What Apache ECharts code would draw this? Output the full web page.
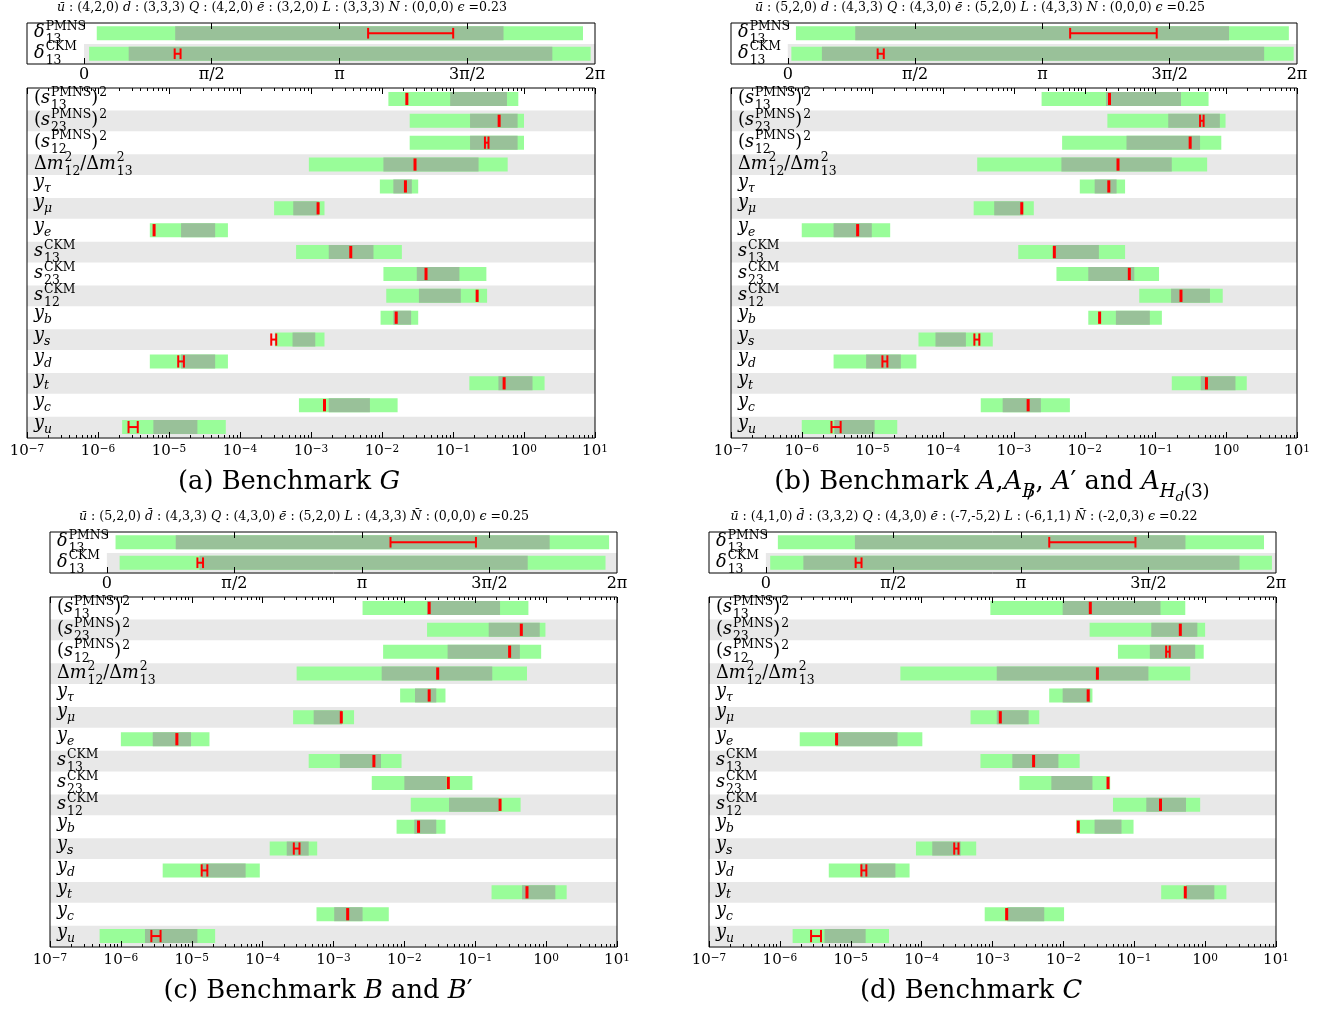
<!DOCTYPE html>
<html>
<head>
<meta charset="utf-8">
<title>Benchmarks</title>
<script src="https://cdn.jsdelivr.net/npm/echarts@6/dist/echarts.min.js"></script>
<style>
  html, body { margin: 0; padding: 0; background: #fff; }
  #chart { width: 1338px; height: 1013px; }
</style>
</head>
<body>
<div id="chart"></div>
<script>
const FAMILY = 'DejaVu Serif';
const LIGHT = '#99fd99', DARK = '#99c199', BAND = '#e8e8e8', RED = '#ff0000';

// rows, top to bottom
const rowNames = ['s13PMNS', 's23PMNS', 's12PMNS', 'dm21dm31', 'ytau', 'ymu', 'ye',
  's13CKM', 's23CKM', 's12CKM', 'yb', 'ys', 'yd', 'yt', 'yc', 'yu'];
const phaseNames = ['deltaPMNS', 'deltaCKM'];

// tick labels
const decades = [-7, -6, -5, -4, -3, -2, -1, 0, 1];
const phaseTicks = [0, 0.5, 1, 1.5, 2];
const phaseLabels = ['0', 'π/2', 'π', '3π/2', '2π'];
const phaseMin = -0.223; // in units of pi

// ranges as log10(value): [low, high]
// (a) benchmark G
const lightG = [[-1.91,-0.08],[-1.61,0.00],[-1.61,0.00],[-3.03,-0.23],[-2.03,-1.49],[-3.52,-2.81],[-5.27,-4.17],[-3.21,-1.72],
  [-1.98,-0.53],[-1.94,-0.52],[-2.02,-1.49],[-3.51,-2.81],[-5.27,-4.17],[-0.77,0.29],[-3.17,-1.78],[-5.66,-4.20]];
const darkG = [[-1.04,-0.24],[-0.76,-0.09],[-0.76,-0.09],[-1.98,-0.64],[-1.84,-1.58],[-3.25,-2.89],[-4.83,-4.35],[-2.75,-2.12],
  [-1.51,-0.91],[-1.48,-0.89],[-1.84,-1.59],[-3.26,-2.94],[-4.83,-4.35],[-0.36,0.12],[-2.75,-2.17],[-5.22,-4.60]];
const bestG = [[-1.65,-1.65],[-0.37,-0.33],[-0.55,-0.50],[-1.55,-1.52],[-1.67,-1.67],[-2.90,-2.90],[-5.21,-5.21],[-2.45,-2.43],
  [-1.38,-1.38],[-0.66,-0.66],[-1.80,-1.80],[-3.56,-3.49],[-4.87,-4.79],[-0.28,-0.28],[-2.81,-2.81],[-5.57,-5.44]];

// (b) benchmark A
const lightA = [[-2.61,-0.25],[-1.68,-0.01],[-2.32,-0.07],[-3.52,-0.27],[-2.07,-1.43],[-3.57,-2.72],[-6.00,-4.75],[-2.94,-1.43],
  [-2.40,-0.95],[-1.23,-0.05],[-1.95,-0.91],[-4.35,-3.30],[-5.55,-4.38],[-0.77,0.29],[-3.47,-2.21],[-6.00,-4.65]];
const darkA = [[-1.70,-0.64],[-0.82,-0.09],[-1.41,-0.37],[-2.33,-0.77],[-1.86,-1.55],[-3.28,-2.87],[-5.55,-5.01],[-2.45,-1.80],
  [-1.95,-1.30],[-0.78,-0.23],[-1.56,-1.08],[-4.11,-3.68],[-5.09,-4.60],[-0.36,0.13],[-3.16,-2.62],[-5.54,-4.97]];
const bestA = [[-1.65,-1.65],[-0.37,-0.32],[-0.53,-0.49],[-1.53,-1.53],[-1.66,-1.66],[-2.89,-2.89],[-5.21,-5.21],[-2.43,-2.43],
  [-1.37,-1.37],[-0.64,-0.64],[-1.79,-1.79],[-3.56,-3.49],[-4.86,-4.79],[-0.28,-0.28],[-2.80,-2.80],[-5.58,-5.45]];

// (c) benchmark B
const lightB = [[-2.59,-0.25],[-1.68,-0.01],[-2.30,-0.07],[-3.52,-0.27],[-2.06,-1.42],[-3.57,-2.71],[-6.00,-4.75],[-3.35,-2.04],
  [-2.46,-1.04],[-1.91,-0.36],[-2.11,-1.42],[-3.90,-3.23],[-5.41,-4.04],[-0.77,0.29],[-3.24,-2.22],[-6.30,-4.67]];
const darkB = [[-1.68,-0.65],[-0.81,-0.09],[-1.39,-0.37],[-2.32,-0.76],[-1.85,-1.55],[-3.28,-2.88],[-5.55,-5.01],[-2.91,-2.33],
  [-2.00,-1.41],[-1.37,-0.67],[-1.86,-1.55],[-3.66,-3.35],[-4.86,-4.24],[-0.34,0.13],[-2.99,-2.59],[-5.66,-4.92]];
const bestB = [[-1.65,-1.65],[-0.37,-0.33],[-0.53,-0.50],[-1.53,-1.53],[-1.65,-1.65],[-2.89,-2.89],[-5.21,-5.21],[-2.43,-2.43],
  [-1.38,-1.38],[-0.65,-0.65],[-1.80,-1.80],[-3.56,-3.48],[-4.86,-4.78],[-0.27,-0.27],[-2.80,-2.80],[-5.57,-5.44]];

// (d) benchmark C
const lightC = [[-3.03,-0.28],[-1.63,0.00],[-1.23,-0.02],[-4.30,-0.21],[-2.20,-1.59],[-3.31,-2.34],[-5.72,-3.99],[-3.17,-1.77],
  [-2.62,-1.34],[-1.30,-0.07],[-1.82,-1.01],[-4.08,-3.23],[-5.31,-4.17],[-0.62,0.30],[-3.11,-1.99],[-5.82,-4.46]];
const darkC = [[-2.01,-0.63],[-0.76,-0.11],[-0.78,-0.14],[-2.94,-0.80],[-2.01,-1.62],[-2.94,-2.49],[-5.21,-4.34],[-2.72,-2.07],
  [-2.17,-1.59],[-0.83,-0.27],[-1.56,-1.18],[-3.85,-3.45],[-4.86,-4.37],[-0.27,0.13],[-2.79,-2.27],[-5.37,-4.79]];
const bestC = [[-1.62,-1.62],[-0.37,-0.33],[-0.55,-0.50],[-1.52,-1.52],[-1.65,-1.65],[-2.89,-2.89],[-5.20,-5.20],[-2.42,-2.42],
  [-1.37,-1.37],[-0.63,-0.63],[-1.79,-1.79],[-3.54,-3.48],[-4.85,-4.78],[-0.28,-0.28],[-2.80,-2.80],[-5.56,-5.42]];

// CP phases in units of pi: [PMNS, CKM]
const phaseLightG = [[0.050,1.953],[0.020,1.983]];
const phaseDarkG = [[0.357,1.642],[0.175,1.833]];
const phaseBestG = [[1.112,1.445],[0.355,0.378]];
const phaseLightA = [[0.032,1.968],[0.014,1.987]];
const phaseDarkA = [[0.265,1.733],[0.134,1.871]];
const phaseBestA = [[1.109,1.449],[0.353,0.377]];
const phaseLightB = [[0.034,1.969],[0.050,1.955]];
const phaseDarkB = [[0.270,1.736],[0.363,1.650]];
const phaseBestB = [[1.112,1.447],[0.355,0.377]];
const phaseLightC = [[0.047,1.953],[0.017,1.984]];
const phaseDarkC = [[0.349,1.645],[0.147,1.857]];
const phaseBestC = [[1.111,1.449],[0.352,0.375]];

// U(1) charges: u, d, Q, e, L, N  and epsilon
const chargesG = ['(4,2,0)', '(3,3,3)', '(4,2,0)', '(3,2,0)', '(3,3,3)', '(0,0,0)'];
const chargesA = ['(5,2,0)', '(4,3,3)', '(4,3,0)', '(5,2,0)', '(4,3,3)', '(0,0,0)'];
const chargesB = ['(5,2,0)', '(4,3,3)', '(4,3,0)', '(5,2,0)', '(4,3,3)', '(0,0,0)'];
const chargesC = ['(4,1,0)', '(3,3,2)', '(4,3,0)', '(-7,-5,2)', '(-6,1,1)', '(-2,0,3)'];
const epsValues = ['0.23', '0.25', '0.25', '0.22'];

// row labels as small math token lists
const rowLabels = [
  [['n','('],['i','s'],['ss','PMNS','13'],['n',')'],['sup','2']],
  [['n','('],['i','s'],['ss','PMNS','23'],['n',')'],['sup','2']],
  [['n','('],['i','s'],['ss','PMNS','12'],['n',')'],['sup','2']],
  [['n','Δ'],['i','m'],['ss','2','12'],['n','/'],['n','Δ'],['i','m'],['ss','2','13']],
  [['i','y'],['subi','τ']],
  [['i','y'],['subi','μ']],
  [['i','y'],['subi','e']],
  [['i','s'],['ss','CKM','13']],
  [['i','s'],['ss','CKM','23']],
  [['i','s'],['ss','CKM','12']],
  [['i','y'],['subi','b']],
  [['i','y'],['subi','s']],
  [['i','y'],['subi','d']],
  [['i','y'],['subi','t']],
  [['i','y'],['subi','c']],
  [['i','y'],['subi','u']]
];
const phaseLabelsRows = [[['i','δ'],['ss','PMNS','13']], [['i','δ'],['ss','CKM','13']]];

const captions = [
  [['n','(a) Benchmark '],['i','G']],
  [['n','(b) Benchmark '],['i','A'],['n',','],['i','A'],['subslash','B'],['n',', '],['i','A'],['n','′ and '],['i','A'],['subi','H'],['subsub','d'],['sub','(3)']],
  [['n','(c) Benchmark '],['i','B'],['n',' and '],['i','B'],['n','′']],
  [['n','(d) Benchmark '],['i','C']]
];

// ---- text helpers ----
const ctx = document.createElement('canvas').getContext('2d');
function fontStr(size, it) { return (it ? 'italic ' : '') + size.toFixed(2) + 'px "' + FAMILY + '"'; }
function measure(t, size, it) { ctx.font = fontStr(size, it); return ctx.measureText(t).width; }

function layoutMath(tokens, fs) {
  const pieces = [];
  const s1 = 0.7 * fs, s2 = 0.52 * fs;
  let x = 0;
  tokens.forEach(tk => {
    const k = tk[0];
    if (k === 'n' || k === 'i') {
      pieces.push({t: tk[1], x, dy: 0, size: fs, it: k === 'i'});
      x += measure(tk[1], fs, k === 'i');
    } else if (k === 'bar') {
      // italic letter with an overbar
      const w = measure(tk[1], fs, true);
      const wb = measure('¯', fs, false);
      pieces.push({t: tk[1], x, dy: 0, size: fs, it: true});
      pieces.push({t: '¯', x: x + (w - wb) / 2 + 0.1 * fs, dy: tk[2] * fs, size: fs, it: false});
      x += w;
    } else if (k === 'sup') {
      pieces.push({t: tk[1], x: x + 1, dy: -0.42 * fs, size: s1, it: false});
      x += measure(tk[1], s1, false) + 1;
    } else if (k === 'sub' || k === 'subi') {
      pieces.push({t: tk[1], x, dy: 0.26 * fs, size: s1, it: k === 'subi'});
      x += measure(tk[1], s1, k === 'subi');
    } else if (k === 'subslash') {
      const w = measure(tk[1], s1, true);
      const ws = measure('/', s1, false);
      pieces.push({t: tk[1], x, dy: 0.26 * fs, size: s1, it: true});
      pieces.push({t: '/', x: x + (w - ws) / 2 + 0.05 * fs, dy: 0.3 * fs, size: s1 * 1.05, it: false});
      x += w;
    } else if (k === 'subsub') {
      pieces.push({t: tk[1], x, dy: 0.42 * fs, size: s2, it: true});
      x += measure(tk[1], s2, true);
    } else if (k === 'ss') {
      pieces.push({t: tk[1], x: x + 1, dy: -0.44 * fs, size: s1, it: false});
      pieces.push({t: tk[2], x: x + 1, dy: 0.32 * fs, size: s1, it: false});
      x += Math.max(measure(tk[1], s1, false), measure(tk[2], s1, false)) + 1;
    }
  });
  return {pieces, width: x};
}

function extentOf(p) {
  const tall = /[A-Z0-9()\/Δδbdfhklt′]/.test(p.t);
  const deep = /[()gjpqyμ]/.test(p.t);
  return [p.dy - (tall ? 0.72 : 0.47) * p.size, p.dy + (deep ? 0.22 : 0) * p.size];
}

// y is the baseline unless centred, then y is the vertical centre of the expression
function mathElements(tokens, fs, x0, y, centred) {
  const m = layoutMath(tokens, fs);
  let base = y;
  if (centred) {
    let top = 0, bot = 0;
    m.pieces.forEach(p => { const e = extentOf(p); top = Math.min(top, e[0]); bot = Math.max(bot, e[1]); });
    base = y - (top + bot) / 2;
  }
  return m.pieces.map(p => ({
    type: 'text',
    x: x0 + p.x,
    y: base + p.dy - 0.34 * p.size,
    silent: true,
    style: {text: p.t, font: fontStr(p.size, p.it), fill: '#000',
      textAlign: 'left', align: 'left', textVerticalAlign: 'middle', verticalAlign: 'middle'}
  }));
}

function headerTokens(ch, eps) {
  const names = [['bar','u',0.08], ['bar','d',-0.12], ['i','Q'], ['bar','e',0.08], ['i','L'], ['bar','N',-0.12]];
  const out = [];
  names.forEach((nm, i) => { out.push(nm); out.push(['n', ' : ' + ch[i] + ' ']); });
  out.push(['i', 'ϵ']);
  out.push(['n', ' =' + eps]);
  return out;
}

// font sizes fitted to the reference text widths
const labelFs = 15 * 99 / layoutMath(rowLabels[3], 15).width;
const headFs = 11 * 450 / layoutMath(headerTokens(chargesG, epsValues[0]), 11).width;
const capFs = 24 * 222 / layoutMath(captions[0], 24).width;

// ---- renderers ----
function bandRender(nRows, fromZero) {
  return function (params, api) {
    const cs = params.coordSys;
    const h = cs.height / nRows;
    const row = api.value(0);
    const yc = api.coord([api.value(1), row])[1];
    const x0 = fromZero ? api.coord([0, row])[0] : cs.x;
    return {type: 'rect', shape: {x: x0, y: yc - h / 2 + 0.5, width: cs.x + cs.width - x0, height: h - 1},
      style: {fill: BAND}};
  };
}

function barRender(nRows, barFrac, redFrac, lineW) {
  return function (params, api) {
    const cs = params.coordSys;
    const h = cs.height / nRows;
    const row = api.value(0);
    const px = k => api.coord([api.value(k), row])[0];
    const yc = api.coord([api.value(1), row])[1];
    const bh = h * barFrac, rh = h * redFrac;
    const kids = [
      {type: 'rect', shape: {x: px(1), y: yc - bh / 2, width: px(2) - px(1), height: bh}, style: {fill: LIGHT}},
      {type: 'rect', shape: {x: px(3), y: yc - bh / 2, width: px(4) - px(3), height: bh}, style: {fill: DARK}}
    ];
    const r1 = px(5), r2 = px(6);
    if (r2 - r1 < 3) {
      kids.push({type: 'rect', shape: {x: (r1 + r2) / 2 - 1.5, y: yc - rh / 2, width: 3, height: rh}, style: {fill: RED}});
    } else {
      kids.push({type: 'rect', shape: {x: r1 - 1, y: yc - rh / 2, width: 2, height: rh}, style: {fill: RED}});
      kids.push({type: 'rect', shape: {x: r2 - 1, y: yc - rh / 2, width: 2, height: rh}, style: {fill: RED}});
      kids.push({type: 'rect', shape: {x: r1, y: yc - lineW / 2, width: r2 - r1, height: lineW}, style: {fill: RED}});
    }
    return {type: 'group', children: kids};
  };
}

function labelRender(list) {
  return function (params, api) {
    const cs = params.coordSys;
    const row = api.value(0);
    const yc = api.coord([api.value(1), row])[1];
    return {type: 'group', children: mathElements(list[row], labelFs, cs.x + 7, yc, true)};
  };
}

function logLabel(v) {
  const e = Math.round(Math.log10(v));
  return '{b|10}{s|' + (e < 0 ? '−' + (-e) : String(e)) + '}';
}

const majorTicks = decades.map(e => Number('1e' + e));
const minorTicks = [];
decades.slice(0, -1).forEach(e => { for (let k = 2; k <= 9; k++) minorTicks.push(Number(k + 'e' + e)); });

function logAxis(g, pos, vals, len, labels) {
  return {
    gridIndex: g, type: 'log', logBase: 10, position: pos, min: 1e-7, max: 10, z: 5,
    axisLine: {show: false}, splitLine: {show: false}, minorTick: {show: false},
    axisTick: {show: true, inside: true, length: len, customValues: vals, lineStyle: {color: '#000', width: 1}},
    axisLabel: labels ? {
      show: true, customValues: majorTicks, margin: 6, formatter: logLabel, color: '#000',
      rich: {
        b: {fontFamily: FAMILY, fontSize: 15, lineHeight: 22, verticalAlign: 'top', color: '#000'},
        s: {fontFamily: FAMILY, fontSize: 10.5, lineHeight: 10, verticalAlign: 'top', color: '#000'}
      }
    } : {show: false}
  };
}

function phaseAxis(g, pos, labels) {
  return {
    gridIndex: g, type: 'value', position: pos, min: phaseMin, max: 2, z: 5,
    axisLine: {show: false}, splitLine: {show: false},
    axisTick: {show: true, inside: true, length: 6, customValues: phaseTicks.slice(0, 4), lineStyle: {color: '#000', width: 1}},
    axisLabel: labels ? {
      show: true, customValues: phaseTicks, margin: 3, color: '#000', fontFamily: FAMILY, fontSize: 16,
      formatter: v => phaseLabels[Math.round(v * 2)]
    } : {show: false}
  };
}

const panels = [
  {light: lightG, dark: darkG, best: bestG, pLight: phaseLightG, pDark: phaseDarkG, pBest: phaseBestG, charges: chargesG,
   left: 27, right: 595, topBox: [23, 64], mainBox: [88, 438], head: [282, 8], cap: [289, 483]},
  {light: lightA, dark: darkA, best: bestA, pLight: phaseLightA, pDark: phaseDarkA, pBest: phaseBestA, charges: chargesA,
   left: 731, right: 1297, topBox: [23, 64], mainBox: [88, 438], head: [980, 8], cap: [992, 483]},
  {light: lightB, dark: darkB, best: bestB, pLight: phaseLightB, pDark: phaseDarkB, pBest: phaseBestB, charges: chargesB,
   left: 50, right: 617, topBox: [532, 573], mainBox: [597, 947], head: [304, 517], cap: [318, 992]},
  {light: lightC, dark: darkC, best: bestC, pLight: phaseLightC, pDark: phaseDarkC, pBest: phaseBestC, charges: chargesC,
   left: 709, right: 1276, topBox: [532, 573], mainBox: [597, 947], head: [964, 517], cap: [971, 992]}
];

const option = {
  animation: false,
  backgroundColor: '#fff',
  grid: [], xAxis: [], yAxis: [], series: [],
  graphic: {elements: []}
};

function addGrid(p, box) {
  option.grid.push({
    left: p.left, top: box[0], width: p.right - p.left, height: box[1] - box[0],
    show: true, z: 6, borderColor: '#000', borderWidth: 1, backgroundColor: 'rgba(0,0,0,0)',
    containLabel: false, outerBoundsMode: 'none'
  });
  return option.grid.length - 1;
}

panels.forEach((p, pi) => {
  // phase strip
  const gt = addGrid(p, p.topBox);
  const xt = option.xAxis.length;
  option.xAxis.push(phaseAxis(gt, 'bottom', true), phaseAxis(gt, 'top', false));
  const yt = option.yAxis.length;
  option.yAxis.push({gridIndex: gt, type: 'category', inverse: true, data: phaseNames, show: false});
  const ptData = phaseNames.map((n, i) => [i, p.pLight[i][0], p.pLight[i][1], p.pDark[i][0], p.pDark[i][1], p.pBest[i][0], p.pBest[i][1]]);
  option.series.push(
    {type: 'custom', xAxisIndex: xt, yAxisIndex: yt, z: 1, silent: true, encode: {y: 0, x: 1},
     data: [[1, 0]], renderItem: bandRender(2, true)},
    {type: 'custom', xAxisIndex: xt, yAxisIndex: yt, z: 2, silent: true, encode: {y: 0, x: [1, 2, 3, 4, 5, 6]},
     data: ptData, renderItem: barRender(2, 0.68, 0.52, 2)},
    {type: 'custom', xAxisIndex: xt, yAxisIndex: yt, z: 3, silent: true, encode: {y: 0, x: 1},
     data: [[0, 1], [1, 1]], renderItem: labelRender(phaseLabelsRows)}
  );

  // main log panel
  const gm = addGrid(p, p.mainBox);
  const xm = option.xAxis.length;
  option.xAxis.push(
    logAxis(gm, 'bottom', majorTicks, 6, true),
    logAxis(gm, 'bottom', minorTicks, 3, false),
    logAxis(gm, 'top', majorTicks, 6, false),
    logAxis(gm, 'top', minorTicks, 3, false)
  );
  const ym = option.yAxis.length;
  option.yAxis.push({gridIndex: gm, type: 'category', inverse: true, data: rowNames, show: false});
  const pw = v => Math.pow(10, v);
  const mData = rowNames.map((n, i) => [i, pw(p.light[i][0]), pw(p.light[i][1]), pw(p.dark[i][0]), pw(p.dark[i][1]),
    pw(p.best[i][0]), pw(p.best[i][1])]);
  const bands = rowNames.map((n, i) => [i, 1e-3]).filter(d => d[0] % 2 === 1);
  option.series.push(
    {type: 'custom', xAxisIndex: xm, yAxisIndex: ym, z: 1, silent: true, encode: {y: 0, x: 1},
     data: bands, renderItem: bandRender(16, false)},
    {type: 'custom', xAxisIndex: xm, yAxisIndex: ym, z: 2, silent: true, encode: {y: 0, x: [1, 2, 3, 4, 5, 6]},
     data: mData, renderItem: barRender(16, 0.64, 0.56, 2)},
    {type: 'custom', xAxisIndex: xm, yAxisIndex: ym, z: 3, silent: true, encode: {y: 0, x: 1},
     data: rowNames.map((n, i) => [i, 1e-3]), renderItem: labelRender(rowLabels)}
  );

  // header and caption
  const ht = headerTokens(p.charges, epsValues[pi]);
  const hw = layoutMath(ht, headFs).width;
  option.graphic.elements.push({type: 'group', silent: true,
    children: mathElements(ht, headFs, p.head[0] - hw / 2, p.head[1] + 0.3 * headFs, false)});
  const cw = layoutMath(captions[pi], capFs).width;
  option.graphic.elements.push({type: 'group', silent: true,
    children: mathElements(captions[pi], capFs, p.cap[0] - cw / 2, p.cap[1] + 0.33 * capFs, false)});
});

const chart = echarts.init(document.getElementById('chart'), null, {renderer: 'canvas'});
chart.setOption(option);
</script>
</body>
</html>
